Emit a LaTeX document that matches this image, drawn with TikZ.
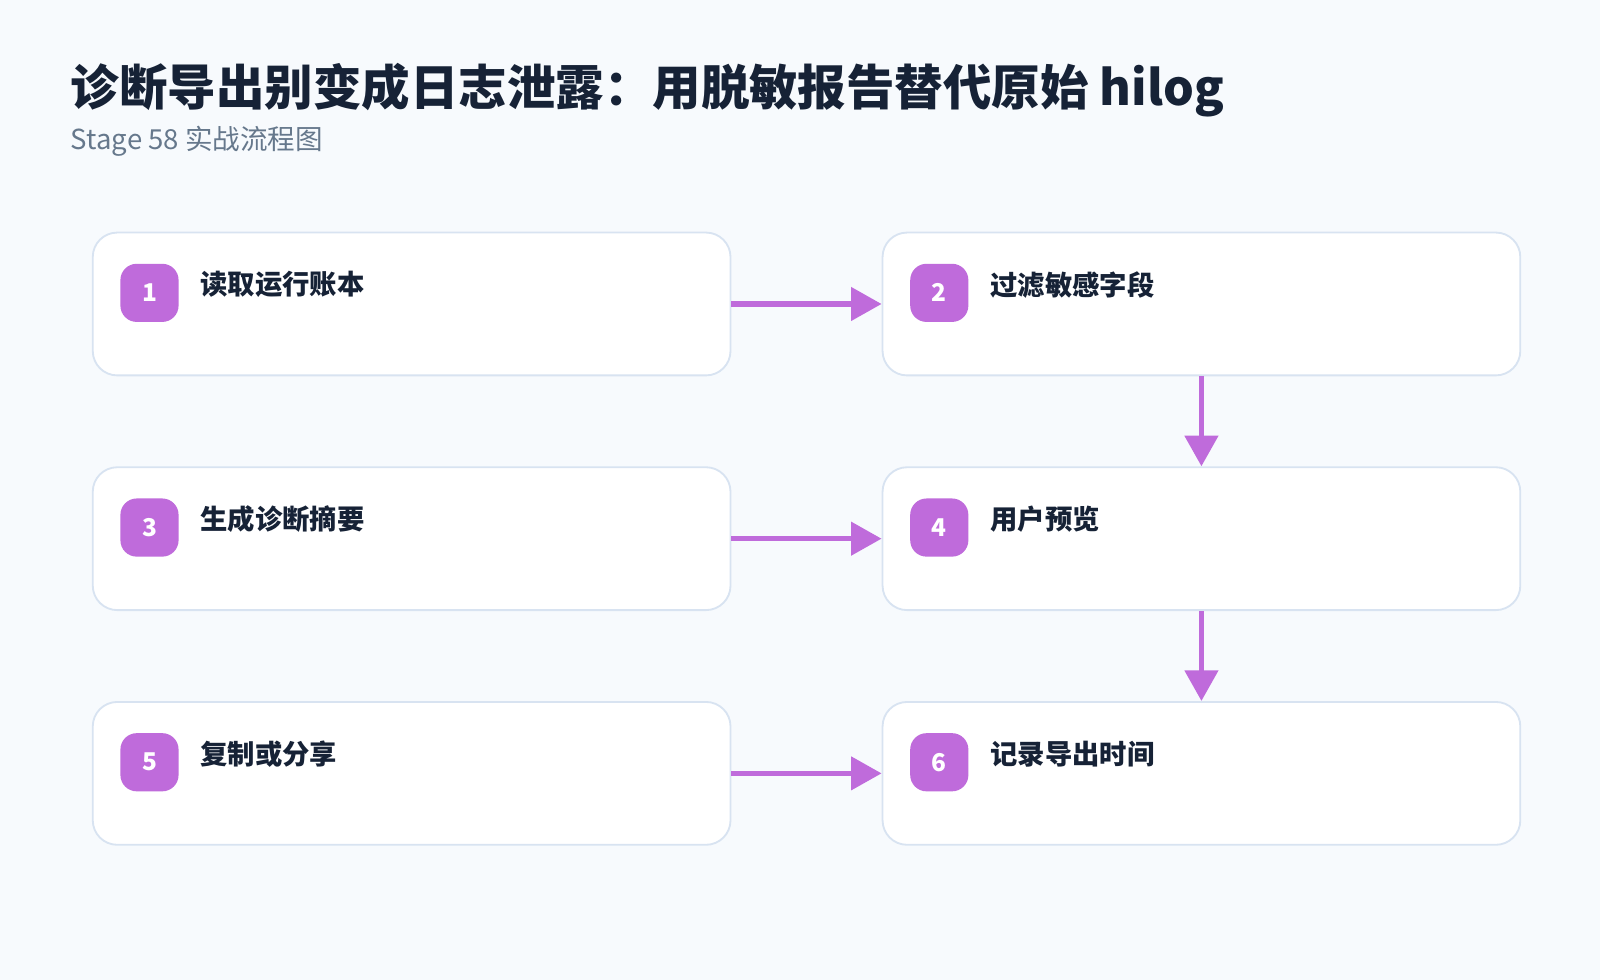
\documentclass[tikz,border=0pt]{standalone}
\usepackage{fontspec}
\setmainfont{Noto Sans CJK SC}
\usetikzlibrary{arrows.meta}
\definecolor{bg}{HTML}{F7FAFD}
\definecolor{bd}{HTML}{D8E3F1}
\definecolor{pu}{HTML}{BF6BDB}
\definecolor{tx}{HTML}{162236}
\definecolor{sub}{HTML}{66788C}
\begin{document}
\begin{tikzpicture}[x=1pt,y=-1pt,
 box/.style={draw=bd,line width=1.8pt,fill=white,rounded corners=24pt,minimum width=625pt,minimum height=140pt,anchor=north west},
 badge/.style={fill=pu,rounded corners=16pt,minimum size=57pt,text=white,font=\fontsize{24}{24}\selectfont\bfseries,anchor=center},
 lab/.style={anchor=west,text=tx,font=\fontsize{26.8}{27}\selectfont\bfseries},
 arr/.style={draw=pu,line width=5.5pt,-{Triangle[length=30pt,width=32pt]}}]
\fill[bg] (0,0) rectangle (1568,960);
\useasboundingbox (0,0) rectangle (1568,960);
\node[anchor=west,text=tx,font=\fontsize{47.5}{48}\selectfont\bfseries] at (66,88) {诊断导出别变成日志泄露：用脱敏报告替代原始 hilog};
\node[anchor=west,text=sub,font=\fontsize{27}{27}\selectfont] at (66,138) {Stage 58 实战流程图};
\foreach \n/\x/\y/\t in {1/90/227/读取运行账本,2/864/227/过滤敏感字段,3/90/457/生成诊断摘要,4/864/457/用户预览,5/90/687/复制或分享,6/864/687/记录导出时间}{
 \node[box] (b\n) at (\x,\y) {};
 \node[badge] (g\n) at (\x+56.5,\y+60) {\n};
 \node[lab] (t\n) at (\x+103,\y+52) {\t};
}
\draw[arr] (b1.east) -- (b2.west);
\draw[arr] (b3.east) -- (b4.west);
\draw[arr] (b5.east) -- (b6.west);
\draw[arr] (b2.south) -- (b4.north);
\draw[arr] (b4.south) -- (b6.north);
\end{tikzpicture}
\end{document}
